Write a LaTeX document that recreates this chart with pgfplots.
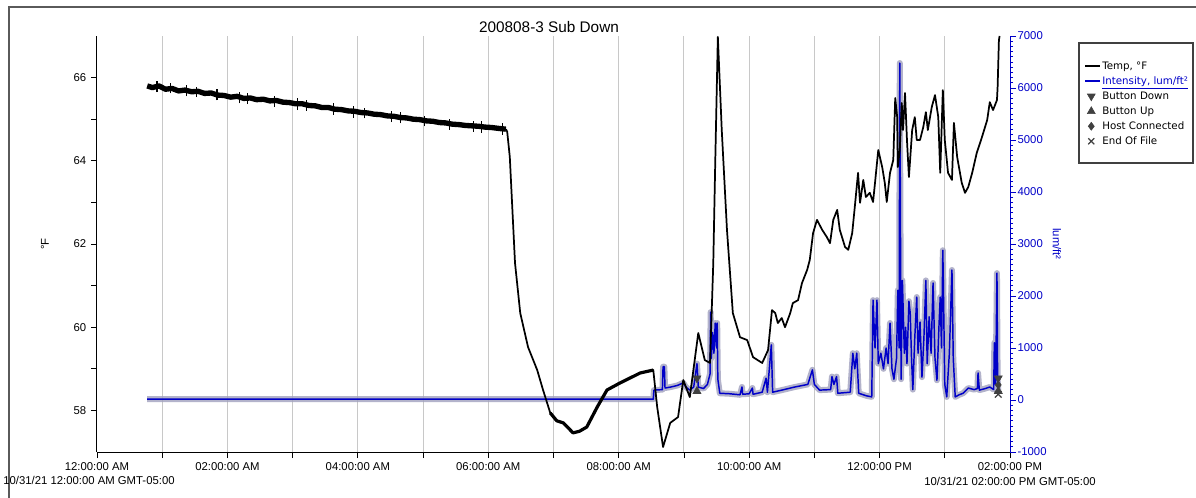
\documentclass[border=0pt]{standalone}
\usepackage{fontspec}
\setmainfont{Liberation Sans}
\newfontfamily\legfont{DejaVu Sans}
\usepackage{pgfplots}
\usepackage{pgfplotstable}
\pgfplotsset{compat=1.18}
\definecolor{lblue}{RGB}{0,0,200}
\definecolor{glow}{RGB}{160,160,190}
\definecolor{gridgray}{RGB}{200,200,200}
\definecolor{mgray}{RGB}{64,64,64}
\definecolor{framegray}{RGB}{90,90,90}
\newcommand\tf{\fontsize{8.5}{10}\selectfont}
\pgfplotsset{
  linelegend/.style={legend image code/.code={\path[draw=none,fill=none] (0pt,-3pt) rectangle (11pt,3pt);\draw[##1] (0pt,0pt) -- (11pt,0pt);}},
  marklegend/.style={legend image code/.code={\path[draw=none,fill=none] (0pt,-3pt) rectangle (11pt,3pt);\draw[##1] plot[only marks] coordinates {(4.5pt,0pt)};}},
}
\pgfplotstableread{
h I
0.77 15
8.53 15
8.54 190
8.67 200
8.68 640
8.70 640
8.71 230
8.80 250
8.90 280
8.99 330
9.03 250
9.09 190
9.15 250
9.20 700
9.22 250
9.30 220
9.36 300
9.40 500
9.41 1690
9.42 800
9.44 1300
9.46 900
9.48 1480
9.50 1000
9.51 1480
9.52 400
9.55 130
9.70 120
9.86 100
9.89 250
9.90 110
10.00 120
10.05 230
10.06 110
10.20 150
10.26 420
10.28 150
10.34 1060
10.36 150
10.50 190
10.70 250
10.90 300
10.97 580
11.00 300
11.08 190
11.25 200
11.27 450
11.30 300
11.34 450
11.36 130
11.55 150
11.59 900
11.62 600
11.65 900
11.68 130
11.80 80
11.88 60
11.90 1920
11.93 1000
11.96 1920
11.98 700
12.02 900
12.06 600
12.10 1000
12.13 700
12.16 1480
12.19 600
12.22 400
12.26 800
12.28 2110
12.30 1000
12.31 6480
12.33 400
12.35 2300
12.38 900
12.40 1400
12.42 700
12.45 1900
12.47 1670
12.49 800
12.51 200
12.54 1200
12.57 1980
12.59 900
12.62 1500
12.65 440
12.68 1200
12.71 2300
12.73 700
12.76 1600
12.79 900
12.82 2250
12.85 800
12.88 380
12.91 1400
12.93 1980
12.95 1000
12.97 2880
13.00 300
13.03 60
13.07 900
13.11 2500
13.13 800
13.16 60
13.22 100
13.28 130
13.36 230
13.45 200
13.50 220
13.51 520
13.53 190
13.62 220
13.69 250
13.75 200
13.76 1100
13.78 300
13.80 2440
13.81 400
13.82 190
}\intens
\pgfplotstableread{
h T
0.77 65.80
0.85 65.76
0.95 65.80
1.05 65.72
1.15 65.74
1.25 65.68
1.35 65.70
1.45 65.66
1.55 65.67
1.65 65.62
1.75 65.63
1.85 65.58
1.95 65.57
2.05 65.53
2.15 65.55
2.25 65.50
2.35 65.51
2.45 65.47
2.55 65.48
2.65 65.44
2.75 65.45
2.85 65.41
2.95 65.40
3.05 65.37
3.15 65.37
3.25 65.33
3.35 65.32
3.45 65.28
3.55 65.28
3.65 65.24
3.75 65.23
3.85 65.20
3.95 65.19
4.05 65.16
4.15 65.15
4.25 65.12
4.35 65.11
4.45 65.08
4.55 65.07
4.65 65.04
4.75 65.03
4.85 65.00
4.95 64.99
5.05 64.96
5.15 64.95
5.25 64.92
5.35 64.91
5.45 64.88
5.55 64.87
5.65 64.85
5.75 64.84
5.85 64.83
5.95 64.81
6.05 64.80
6.15 64.78
6.27 64.76
}\tempband
\pgfplotstableread{
h T
0.92 65.65
0.92 65.92
0.93 nan
1.12 65.62
1.12 65.86
1.13 nan
1.37 65.55
1.37 65.82
1.38 nan
1.52 65.53
1.52 65.78
1.53 nan
1.84 65.45
1.84 65.72
1.85 nan
2.18 65.38
2.18 65.66
2.19 nan
2.31 65.36
2.31 65.62
2.32 nan
2.72 65.29
2.72 65.56
2.73 nan
3.08 65.22
3.08 65.50
3.09 nan
3.21 65.20
3.21 65.46
3.22 nan
3.62 65.11
3.62 65.38
3.63 nan
3.94 65.04
3.94 65.31
3.95 nan
4.10 65.02
4.10 65.28
4.11 nan
4.52 64.93
4.52 65.19
4.53 nan
4.66 64.90
4.66 65.17
4.67 nan
5.02 64.83
5.02 65.08
5.03 nan
5.41 64.75
5.41 65.01
5.42 nan
5.78 64.70
5.78 64.96
5.79 nan
5.90 64.68
5.90 64.95
5.91 nan
6.22 64.63
6.22 64.90
}\tempspikes
\pgfplotstableread{
h T
6.27 64.76
6.29 64.70
6.33 64.09
6.36 63.13
6.41 61.54
6.49 60.34
6.61 59.52
6.75 58.97
6.84 58.49
6.95 57.94
7.05 57.75
7.15 57.70
7.30 57.46
7.40 57.50
7.51 57.60
7.67 58.08
7.82 58.49
8.02 58.66
8.33 58.90
8.53 58.97
8.59 58.08
8.68 57.12
8.79 57.70
8.91 57.84
8.99 58.73
9.09 58.32
9.22 59.86
9.32 59.21
9.40 59.14
9.45 61.54
9.48 63.95
9.52 66.98
9.58 64.74
9.66 62.34
9.75 60.34
9.86 59.76
9.97 59.69
10.06 59.28
10.20 59.14
10.29 59.45
10.35 60.41
10.40 60.34
10.44 60.10
10.50 60.22
10.55 60.00
10.63 60.34
10.67 60.58
10.75 60.65
10.81 61.06
10.89 61.38
10.93 61.62
10.98 62.26
11.04 62.58
11.12 62.34
11.19 62.17
11.24 62.02
11.29 62.58
11.35 62.82
11.39 62.34
11.47 61.93
11.52 61.86
11.58 62.26
11.62 62.89
11.67 63.71
11.70 62.99
11.75 63.54
11.79 63.13
11.85 63.23
11.90 63.01
11.93 63.47
11.98 64.26
12.04 63.85
12.08 63.47
12.11 63.01
12.16 63.71
12.21 64.02
12.24 65.51
12.27 65.05
12.28 63.85
12.31 64.26
12.34 65.39
12.36 64.74
12.39 65.63
12.42 64.50
12.45 63.61
12.50 64.74
12.54 65.05
12.57 64.50
12.62 64.50
12.67 64.81
12.71 65.17
12.74 64.74
12.80 65.29
12.85 65.58
12.90 65.05
12.93 63.71
12.97 65.70
13.00 64.50
13.05 63.71
13.11 63.54
13.14 64.91
13.19 64.09
13.26 63.47
13.31 63.23
13.36 63.37
13.42 63.71
13.49 64.19
13.57 64.57
13.65 64.98
13.69 65.41
13.74 65.22
13.80 65.46
13.81 65.77
13.83 66.90
13.84 67.00
}\temprest
\pgfplotstableread{
h T
6.95 57.94
7.05 57.75
7.15 57.70
7.30 57.46
7.40 57.50
7.51 57.60
7.67 58.08
7.82 58.49
8.02 58.66
8.33 58.90
8.53 58.97
}\tempthick
\begin{document}
\begin{tikzpicture}
\path[use as bounding box] (-72.75pt,-33.75pt) rectangle (824.25pt,339pt);
\draw[framegray, line width=1.5pt] (-66pt,-40pt) -- (-66pt,333.75pt) -- (830pt,333.75pt);
% intensity axis (right), with x axis and grid
\begin{axis}[name=A, scale only axis, width=684.75pt, height=312pt,
  xmin=0, xmax=14, ymin=-1000, ymax=7000,
  axis x line*=bottom, axis y line*=right, axis line style={-},
  tick align=outside,
  xtick={0,...,14},
  xticklabels={12:00:00 AM,,02:00:00 AM,,04:00:00 AM,,06:00:00 AM,,08:00:00 AM,,10:00:00 AM,,12:00:00 PM,,02:00:00 PM},
  xmajorgrids, grid style={gridgray, line width=0.75pt},
  ytick={-1000,0,...,7000}, minor y tick num=9,
  major tick length=4.5pt, minor tick length=2.25pt,
  y axis line style={lblue, -, line width=0.75pt},
  x axis line style={black, -, line width=0.75pt},
  ytick style={lblue, line width=0.6pt}, xtick style={black, line width=0.6pt},
  yticklabel style={lblue, font=\tf, inner xsep=1pt},
  xticklabel style={font=\tf},
  /pgf/number format/assume math mode=true, /pgf/number format/1000 sep={}]
\addplot[glow, line width=4.5pt, line join=round, opacity=0.8] table[x=h,y=I] {\intens};
\addplot[lblue, line width=1.1pt, line join=round] table[x=h,y=I] {\intens};
\addplot[only marks, mark=triangle*, mark size=3.5pt, mark options={rotate=180, fill=mgray, draw=mgray}] coordinates {(9.20,420) (13.82,420)};
\addplot[only marks, mark=triangle*, mark size=3.5pt, mark options={fill=mgray, draw=mgray}] coordinates {(9.20,170) (13.82,170)};
\addplot[only marks, mark=diamond*, mark size=3pt, mark options={fill=mgray, draw=mgray}] coordinates {(13.82,290)};
\addplot[only marks, mark=x, mark size=3.5pt, mark options={draw=mgray, line width=1pt}] coordinates {(13.82,110)};
\end{axis}
% temperature axis (left)
\begin{axis}[name=B, scale only axis, width=684.75pt, height=312pt,
  xmin=0, xmax=14, ymin=57, ymax=67,
  hide x axis, axis y line*=left,
  y axis line style={black, -, line width=0.75pt},
  tick align=outside, major tick length=4.5pt,
  ytick={58,...,66}, yticklabels={58,,60,,62,,64,,66},
  ytick style={black, line width=0.6pt},
  yticklabel style={font=\tf},
  legend style={at={(rel axis cs:1.0810,0.9423)}, anchor=north west, draw=none, fill=none,
    inner sep=0pt, row sep=2.25pt, column sep=1pt, font=\legfont\fontsize{7.7}{9}\selectfont,
    nodes={inner sep=0pt, text height=7pt, text depth=2pt}},
  legend cell align=left]
\addplot[black, line width=4pt, line join=round, forget plot] table[x=h,y=T] {\tempband};
\addplot[black, line width=0.8pt, unbounded coords=jump, forget plot] table[x=h,y=T] {\tempspikes};
\addplot[black, line width=2.4pt, line join=round, forget plot] table[x=h,y=T] {\tempthick};
\addplot[black, line width=1.3pt, line join=round, forget plot] table[x=h,y=T] {\temprest};
\addlegendimage{linelegend, black, line width=1.6pt}
\addlegendentry{Temp, °F}
\addlegendimage{linelegend, lblue, line width=1.6pt}
\addlegendentry{\textcolor{lblue}{\underline{Intensity, lum/ft²}}}
\addlegendimage{marklegend, mark=triangle*, mark size=3.4pt, mark options={rotate=180, fill=mgray, draw=mgray}}
\addlegendentry{Button Down}
\addlegendimage{marklegend, mark=triangle*, mark size=3.4pt, mark options={fill=mgray, draw=mgray}}
\addlegendentry{Button Up}
\addlegendimage{marklegend, mark=diamond*, mark size=3pt, mark options={fill=mgray, draw=mgray}}
\addlegendentry{Host Connected}
\addlegendimage{marklegend, mark=x, mark size=3.2pt, mark options={draw=mgray, line width=0.9pt}}
\addlegendentry{End Of File}
\end{axis}
\node[rotate=90, font=\tf] at (-39pt,156pt) {°F};
\node[rotate=-90, font=\tf, text=lblue] at (720pt,156pt) {lum/ft²};
\node[font=\fontsize{11.5}{13}\selectfont] at (339pt,318.75pt) {200808-3 Sub Down};
\node[anchor=west, font=\tf, inner sep=0pt] at (-70.5pt,-21pt) {10/31/21 12:00:00 AM GMT-05:00};
\node[anchor=east, font=\tf, inner sep=0pt] at (749.25pt,-21.75pt) {10/31/21 02:00:00 PM GMT-05:00};
\draw[black!75, line width=0.9pt] (736.5pt,216.75pt) rectangle (822pt,306.75pt);
\end{tikzpicture}
\end{document}
